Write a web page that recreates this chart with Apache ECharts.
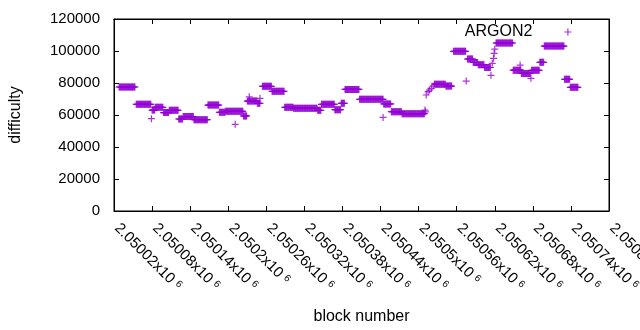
<!DOCTYPE html>
<html>
<head>
<meta charset="utf-8">
<script src="https://cdn.jsdelivr.net/npm/echarts@6/dist/echarts.min.js"></script>
<style>
  html, body { margin: 0; background: #fff; }
  #chart { width: 640px; height: 330px; }
</style>
</head>
<body>
<div id="chart"></div>
<script>
// difficulty stays flat over runs of blocks: first block, last block, level
var runFrom = [2050028, 2050055, 2050080, 2050085, 2050098, 2050107, 2050122, 2050129, 2050146, 2050168,
               2050186, 2050196, 2050224, 2050230, 2050246, 2050254, 2050269, 2050289, 2050303, 2050341,
               2050347, 2050368, 2050378, 2050384, 2050407, 2050445, 2050457, 2050474, 2050526, 2050543,
               2050555, 2050577, 2050586, 2050594, 2050604, 2050622, 2050649, 2050662, 2050678, 2050691,
               2050698, 2050730, 2050739];
var runTo   = [2050053, 2050078, 2050084, 2050097, 2050106, 2050121, 2050128, 2050145, 2050167, 2050185,
               2050195, 2050223, 2050229, 2050245, 2050250, 2050268, 2050288, 2050302, 2050340, 2050346,
               2050367, 2050377, 2050383, 2050406, 2050444, 2050456, 2050473, 2050509, 2050542, 2050552,
               2050574, 2050585, 2050593, 2050603, 2050613, 2050648, 2050661, 2050676, 2050690, 2050697,
               2050729, 2050738, 2050751];
var runLevel = [77500, 66700, 63100, 64800, 61500, 62900, 57500, 59000, 57100, 66200,
                61700, 62300, 59400, 68700, 67300, 77900, 74800, 64800, 64200, 62900,
                66700, 63300, 67300, 76000, 69800, 66900, 62100, 60800, 79200, 78100,
                99800, 95000, 92800, 91400, 89700, 105000, 88000, 86000, 87900, 92900,
                103100, 82300, 77300];

// single blocks off the runs
var dotBlock = [2050079, 2050211, 2050233, 2050250, 2050444, 2050510, 2050511, 2050512, 2050515, 2050517,
                2050520, 2050523, 2050525, 2050575, 2050614, 2050616, 2050618, 2050619, 2050620, 2050660,
                2050677];
var dotLevel = [57700, 54200, 71400, 70400, 58500, 63100, 62000, 72500, 74600, 75600,
                76700, 78100, 79400, 81200, 84800, 92300, 95400, 98500, 101200, 91200,
                82900];

var xTickFirst = 2050020, xTickLast = 2050800, xTickStep = 60;
var yTicks = [0, 20000, 40000, 60000, 80000, 100000, 120000];

var purple = '#9400d3';
var plus = 'path://M5,0L5,10M0,5L10,5';
var font = '"Liberation Sans", Arial, sans-serif';

var points = [];
runFrom.forEach(function (b, i) {
  for (var k = b; k <= runTo[i]; k++) points.push([k, runLevel[i]]);
});
dotBlock.forEach(function (b, i) {
  points.push([b, dotLevel[i]]);
});

function blockLabel(v) {
  var s = parseFloat((v / 1e6).toFixed(6)).toString();
  return '{m|' + s + 'x10}{s|6}';
}

var chart = echarts.init(document.getElementById('chart'));
chart.setOption({
  animation: false,
  textStyle: { fontFamily: font, color: '#000' },
  grid: {
    left: 114, right: 31, top: 19, bottom: 119,
    outerBoundsMode: 'none',
    show: true, borderColor: '#000', borderWidth: 1
  },
  legend: {
    right: 68, top: 24, padding: 0,
    align: 'right',
    itemWidth: 61, itemHeight: 7,
    icon: plus,
    selectedMode: false,
    itemStyle: { color: 'transparent', borderColor: purple, borderWidth: 1.2 },
    textStyle: { fontSize: 16, color: '#000', fontFamily: font },
    data: ['ARGON2']
  },
  xAxis: [{
    type: 'value',
    min: xTickFirst, max: xTickLast, interval: xTickStep,
    name: 'block number', nameLocation: 'middle', nameGap: 98,
    nameTextStyle: { fontSize: 16, color: '#000', fontFamily: font },
    axisLine: { show: true, onZero: false, lineStyle: { color: '#000' } },
    axisTick: { inside: true, length: 5, lineStyle: { color: '#000' } },
    axisLabel: {
      rotate: -45, margin: 12, color: '#000',
      padding: [0, 0, 0, 4],
      formatter: blockLabel,
      rich: {
        m: { fontSize: 15, fontFamily: font, color: '#000' },
        s: { fontSize: 10, fontFamily: font, color: '#000', verticalAlign: 'top', padding: [0, 0, 0, 4] }
      }
    },
    splitLine: { show: false }
  }, {
    type: 'value', position: 'top',
    min: xTickFirst, max: xTickLast, interval: xTickStep,
    axisLine: { show: true, onZero: false, lineStyle: { color: '#000' } },
    axisTick: { inside: true, length: 5, lineStyle: { color: '#000' } },
    axisLabel: { show: false },
    splitLine: { show: false }
  }],
  yAxis: [{
    type: 'value',
    min: yTicks[0], max: yTicks[yTicks.length - 1], interval: yTicks[1] - yTicks[0],
    name: 'difficulty', nameLocation: 'middle', nameGap: 90,
    nameTextStyle: { fontSize: 16, color: '#000', fontFamily: font },
    axisLine: { show: true, lineStyle: { color: '#000' } },
    axisTick: { inside: true, length: 5, lineStyle: { color: '#000' } },
    axisLabel: {
      margin: 14, fontSize: 15, color: '#000', fontFamily: font,
      formatter: function (v) { return String(v); }
    },
    splitLine: { show: false }
  }, {
    type: 'value', position: 'right',
    min: yTicks[0], max: yTicks[yTicks.length - 1], interval: yTicks[1] - yTicks[0],
    axisLine: { show: true, lineStyle: { color: '#000' } },
    axisTick: { inside: true, length: 5, lineStyle: { color: '#000' } },
    axisLabel: { show: false },
    splitLine: { show: false }
  }],
  series: [{
    name: 'ARGON2',
    type: 'scatter',
    symbol: plus,
    symbolSize: 7,
    itemStyle: { color: purple, borderColor: purple, borderWidth: 1.2 },
    emphasis: { disabled: true },
    data: points
  }]
});
</script>
</body>
</html>
